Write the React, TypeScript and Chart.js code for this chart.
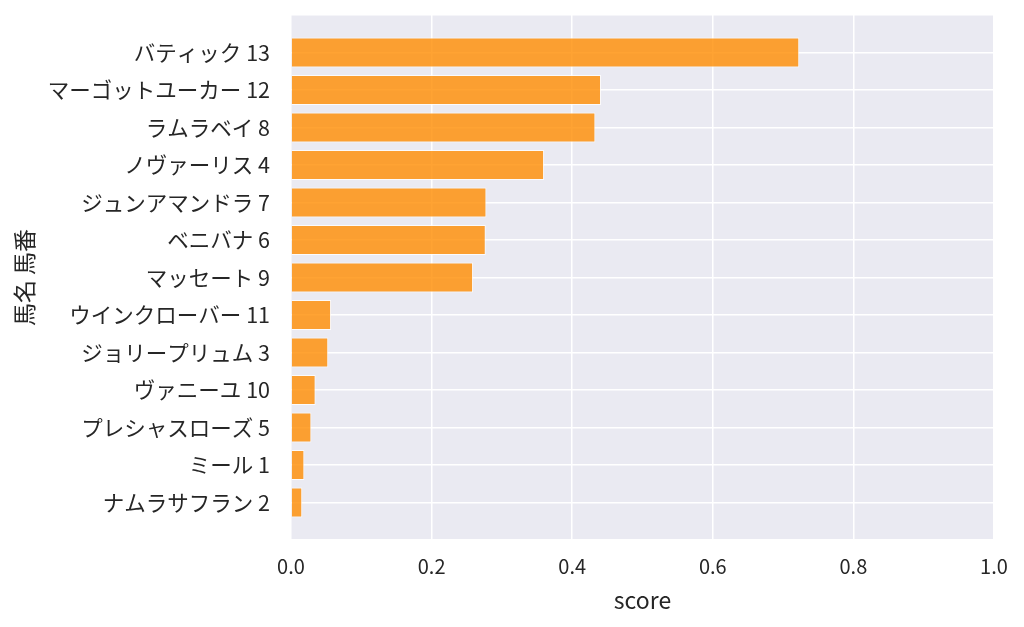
import React, { useEffect, useRef } from 'react';
import { Chart, registerables, Plugin } from 'chart.js';

Chart.register(...registerables);

// horse name + number, top to bottom
const horseLabels = [
    'バティック 13',
    'マーゴットユーカー 12',
    'ラムラベイ 8',
    'ノヴァーリス 4',
    'ジュンアマンドラ 7',
    'ベニバナ 6',
    'マッセート 9',
    'ウインクローバー 11',
    'ジョリープリュム 3',
    'ヴァニーユ 10',
    'プレシャスローズ 5',
    'ミール 1',
    'ナムラサフラン 2',
];
const scores = [0.723, 0.441, 0.433, 0.360, 0.278, 0.277, 0.259, 0.057, 0.053, 0.035, 0.029, 0.019, 0.016];
const xTicks = [0, 0.2, 0.4, 0.6, 0.8, 1.0];

const FONT = '"Noto Sans CJK JP", "Noto Sans", sans-serif';

// seaborn-like grey panel behind the plot
const panelBg: Plugin<'bar'> = {
    id: 'panelBg',
    beforeDraw(chart) {
        const { ctx, chartArea } = chart;
        ctx.save();
        ctx.fillStyle = '#eaeaf2';
        ctx.fillRect(chartArea.left, chartArea.top, chartArea.right - chartArea.left, chartArea.bottom - chartArea.top);
        ctx.restore();
    },
};

const ScoreChart: React.FC = () => {
    const ref = useRef<HTMLCanvasElement>(null);

    useEffect(() => {
        if (!ref.current) return;
        // blank slots above and below to get the extra margin matplotlib leaves
        const labels = ['', ...horseLabels, ''];
        const values = [null, ...scores, null];

        const chart = new Chart(ref.current, {
            type: 'bar',
            data: {
                labels,
                datasets: [
                    {
                        label: 'score',
                        data: values,
                        backgroundColor: 'rgba(255,140,0,0.8)',
                        borderColor: 'rgba(255,255,255,0.8)',
                        borderWidth: 1,
                        barPercentage: 0.8,
                        categoryPercentage: 1,
                    },
                ],
            },
            options: {
                indexAxis: 'y',
                animation: false,
                responsive: false,
                layout: { padding: { top: 15, right: 30, left: 0, bottom: 0 } },
                plugins: {
                    legend: { display: false },
                    tooltip: { enabled: false },
                },
                scales: {
                    x: {
                        type: 'linear',
                        min: 0,
                        max: 1,
                        afterBuildTicks: (scale) => {
                            scale.ticks = xTicks.map(v => ({ value: v }));
                        },
                        afterFit: (scale) => {
                            scale.height = 87;
                        },
                        grid: { color: '#ffffff', lineWidth: 1.5, drawTicks: false },
                        border: { display: false },
                        ticks: {
                            color: '#262626',
                            font: { family: FONT, size: 20 },
                            padding: 14,
                            callback: (v) => Number(v).toFixed(1),
                        },
                        title: {
                            display: true,
                            text: 'score',
                            color: '#262626',
                            font: { family: FONT, size: 23 },
                            padding: { top: 4, bottom: 13 },
                        },
                    },
                    y: {
                        type: 'category',
                        offset: false,
                        afterFit: (scale) => {
                            scale.width = 291;
                            scale.paddingTop = 0;
                            scale.paddingBottom = 0;
                        },
                        grid: { color: '#ffffff', lineWidth: 1.5, drawTicks: false, offset: false },
                        border: { display: false },
                        ticks: {
                            color: '#262626',
                            font: { family: FONT, size: 21.5 },
                            padding: 21,
                            autoSkip: false,
                        },
                        title: {
                            display: true,
                            text: '馬名 馬番',
                            color: '#262626',
                            font: { family: FONT, size: 23 },
                            padding: { top: 10, bottom: 0 },
                        },
                    },
                },
            },
            plugins: [panelBg],
        });

        return () => {
            chart.destroy();
        };
    }, []);

    return <canvas ref={ref} width={1024} height={627}></canvas>;
};

export default function App() {
    return (
        <div style={{ position: 'fixed', left: 0, top: 0, width: 1024, height: 627, background: '#fff' }}>
            <ScoreChart />
        </div>
    );
}
